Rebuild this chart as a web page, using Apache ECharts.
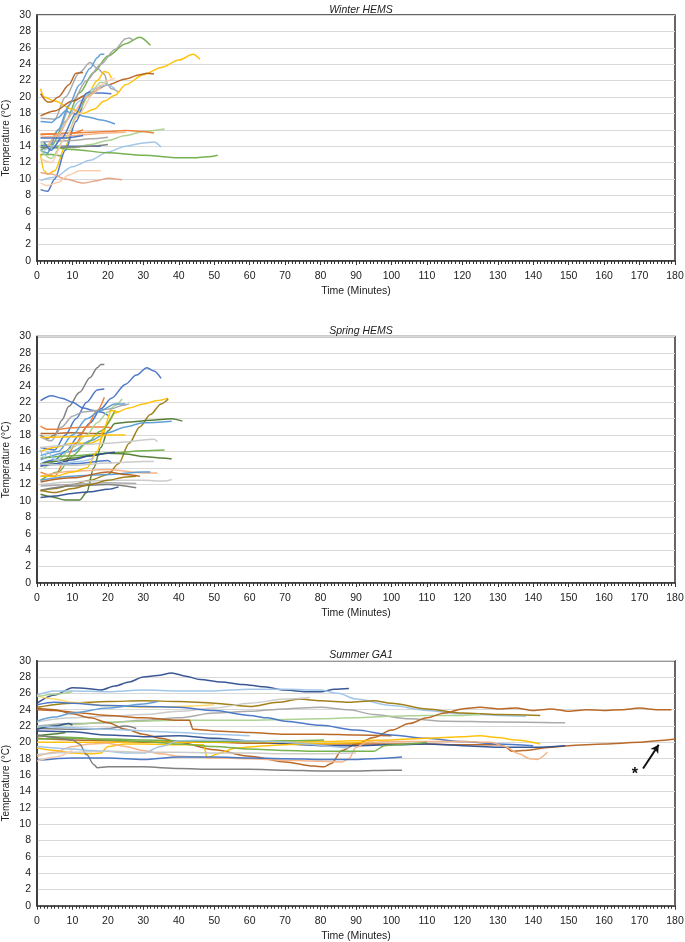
<!DOCTYPE html>
<html><head><meta charset="utf-8">
<script src="https://cdn.jsdelivr.net/npm/echarts@6/dist/echarts.min.js"></script>
<style>html,body{margin:0;padding:0;background:#fff}#c{width:685px;height:942px}</style>
</head><body><div id="c"></div>
<script>
// ---------- axis ticks ----------
const xTicks = [0,10,20,30,40,50,60,70,80,90,100,110,120,130,140,150,160,170,180];
const yTicks = [0,2,4,6,8,10,12,14,16,18,20,22,24,26,28,30];
const panelTitles = ['Winter HEMS','Spring HEMS','Summer GA1'];

// ---------- Winter HEMS ----------
const wGreenPeak = [[1,13.5],[4,14],[8,17],[12,20.5],[16,23],[20,25],[25,26.5],[29,27.3],[32,26.3]];
const wGrayA = [[1,17.4],[5,17.3],[8,20],[12,23],[15,24.2],[17,23.5],[19,22.8],[20,21.5],[21,21],[23,20.6]];
const wGrayB = [[3,13],[6,16],[10,19.5],[14,22],[18,24],[22,25.8],[25,27.1],[26,27.2],[27,27]];
const wGoldA = [[1,21],[2,20],[5,19.5],[10,18.5],[13,18],[16,18.5],[19,19.5],[22,20.2],[25,21.5],[30,22.7],[35,23.6],[40,24.5],[44,25.2],[46,24.6]];
const wGoldB = [[1,13],[2,11],[3,10.6],[5,11],[8,14],[11,17.5],[14,20],[17,22],[19,23.1],[20,23],[21,22.3]];
const wBrownA = [[1,20.4],[3,19.4],[4,19.4],[6,20],[9,21.5],[11,22.9],[13,23]];
const wBrownB = [[1,17.7],[5,18.3],[10,19.5],[15,20.5],[20,21.5],[25,22.2],[29,22.7],[31,22.9],[33,22.8]];
const wLtBlueA = [[1,13.5],[3,13.2],[6,16],[9,19],[12,21.5],[15,23.5],[17,24.8],[18,25.2],[19,25.2]];
const wLtBlueB = [[1,17],[4,16.9],[6,17.5],[8,18.3],[10,18],[14,17.6],[18,17.2],[22,16.7]];
const wLtBlueC = [[1,9.8],[5,10.2],[10,11.5],[15,12.3],[20,13.3],[25,14],[30,14.4],[33,14.5],[35,13.9]];
const wBlueLow = [[1,8.7],[3,8.5],[5,10],[8,13.5],[11,17],[14,20],[15,20.5],[18,20.5],[21,20.4]];
const wBlueFlat = [[1,14.1],[5,14],[10,14],[15,14],[18,14]];
const wGreenLong = [[1,13.9],[5,13.8],[10,13.6],[20,13.2],[30,12.9],[40,12.6],[45,12.6],[48,12.7],[51,12.9]];
const wLtGreenLong = [[1,14.3],[10,13.8],[15,14.2],[20,14.7],[25,15.3],[30,15.8],[36,16.1]];
const wGreenShort = [[1,13],[4,13],[7,12.8]];
const wOrangeShort = [[1,15.5],[5,15.5],[10,15.6],[13,16]];
const wOrangeLong = [[1,15.4],[10,15.6],[20,15.8],[25,15.9],[30,15.8],[33,15.6]];
const wLtOrange = [[1,15.1],[10,15.3],[20,15.6],[25,15.7]];
const wSalmon = [[1,10.8],[4,10.6],[8,10],[13,9.5],[17,9.8],[20,10.1],[22,10],[24,9.9]];
const wPeach = [[1,9.5],[3,9.2],[6,9.6],[9,10.5],[12,11],[15,11],[18,11]];
const wGrayFlatA = [[1,14.5],[10,14.7],[15,14.9],[20,15.1]];
const wGrayFlatB = [[1,13.8],[10,13.9],[15,14],[20,14.2]];
const wLtGreenSteep = [[1,13.5],[4,12.5],[8,15],[12,18.5],[15,20.5],[18,21.8],[20,21.6]];
const wPeachSteep = [[1,12.5],[4,12],[8,15],[12,18],[16,20.5],[20,22],[22,22.3]];
const wLtBlueD = [[2,13.5],[5,14],[8,17],[12,19.5],[16,21],[20,21.5],[22,21]];
const wOrangeSteep = [[3,14],[6,15.5],[10,18],[14,20],[18,21.5]];
const wBlueSteep = [[2,14.5],[4,13.5],[7,15],[11,18],[14,20.5],[15,20.7]];
const wBlueShort = [[1,15],[8,15],[13,15.3]];

// ---------- Spring HEMS ----------
const sGrayPeak = [[1,18],[3,17.6],[5,18],[7,19.8],[9,21.5],[12,23.2],[15,25],[17,26.2],[18,26.6],[19,26.6]];
const sBlueHigh = [[1,22.2],[4,22.8],[7,22.5],[10,22],[13,21.3],[16,21],[18,20.8],[20,20.4]];
const sBluePeak = [[1,14.5],[5,15],[8,16],[12,18],[15,19.5],[18,21.2],[21,22.5],[25,24.2],[28,25.3],[31,26.2],[33,25.8],[35,24.9]];
const sBlueMid = [[1,16.5],[5,16.2],[8,18],[11,20],[14,22],[17,23.5],[19,23.6]];
const sGold = [[1,16],[5,16.5],[10,17],[15,17],[18,17.5],[20,19.5],[22,20.7],[26,21.3],[30,21.8],[34,22.2],[37,22.5]];
const sOlive = [[1,11.2],[5,11.5],[10,12],[15,12.5],[20,13.2],[23,14.5],[26,17],[29,19],[32,20.5],[35,21.8],[37,22.4]];
const sDkGreen = [[1,10.8],[4,10.5],[8,10.1],[12,10.1],[14,11],[16,14],[18,16.5],[20,18.5],[22,19.4],[26,19.6],[32,19.8],[38,20],[41,19.7]];
const sLtBlueLong = [[1,15],[10,16],[15,17.3],[20,18.3],[25,19],[30,19.5],[38,19.7]];
const sOrangeA = [[1,19.1],[3,18.7],[6,18.7],[10,18.9],[15,19],[19,19],[21,18.9]];
const sOrangeB = [[1,18.2],[5,18.2],[10,18.3],[15,18.2],[19,18.2]];
const sOrangeSteep = [[1,13.5],[5,13],[8,15],[11,17],[14,19],[17,21],[19,22.6]];
const sLtGreenSteep = [[2,14],[6,15],[10,16.5],[14,18],[17,19.5],[20,20.8],[22,21.6],[24,22.4]];
const sGreenSteep = [[1,12.5],[6,13.5],[10,15.5],[14,17],[18,18.5],[22,21]];
const sGrayMid = [[1,17.8],[4,17.3],[7,19],[10,20.3],[13,20.8],[17,21],[21,21.2],[24,21.6],[26,21.8]];
const sLtBlueMid = [[1,15.5],[6,16],[10,18],[14,20],[18,21],[22,21.8],[25,21.8]];
const sLtGray = [[1,16.5],[10,16.8],[20,17],[26,17.2],[30,17.4],[33,17.5],[34,17.2]];
const sYellowFlat = [[1,17.7],[10,17.8],[20,18],[25,18]];
const sGreenFlat = [[1,15.2],[10,15.5],[20,15.8],[30,16.1],[36,16.2]];
const sDkGreenFlat = [[1,14.5],[5,14.8],[10,15.2],[15,15.5],[20,15.8],[25,15.7],[30,15.4],[35,15.2],[38,15.1]];
const sDkBlueA = [[1,14.2],[5,14.5],[10,15],[15,15.5],[20,15.8],[22,15.9]];
const sDkBlueB = [[1,14.3],[10,14.5],[20,14.9],[21,14.6]];
const sLtGrayB = [[1,14.5],[10,14.3],[20,14.6],[30,14.8],[33,14.8]];
const sSalmon = [[1,13],[10,13.6],[20,13.8],[30,13.4],[34,13.4]];
const sLtBlueLow = [[1,12.5],[10,13],[20,13.2],[30,13.5],[32,13.5]];
const sBrown = [[1,12.3],[10,12.8],[20,13.5],[25,13.2],[29,13]];
const sLtGrayC = [[1,12],[10,12.3],[20,12.5],[30,12.5],[36,12.4],[38,12.6]];
const sGrayA = [[1,11.8],[10,12],[20,12.2],[28,12.1]];
const sGrayB = [[1,11.3],[10,11.8],[20,12],[28,11.6]];
const sDkBlueLow = [[1,10.4],[5,10.6],[10,10.9],[15,11.1],[20,11.4],[23,11.7]];
const sOliveLow = [[1,11.3],[5,11],[10,11.5],[15,12],[20,12.5],[25,12.9],[28,13]];
const sYellowSteep = [[1,13],[5,13],[10,13.5],[14,14],[17,16],[19,19],[21,21],[23,20.8]];
const sLtBlueSpike = [[1,16.2],[2,15.2],[3,16],[5,15],[8,14.6],[12,14.8],[16,15.2]];

// ---------- Summer GA1 ----------
const uDkBlueTop = [[0,24.8],[5,25.8],[10,26.7],[14,26.6],[18,26.4],[22,26.9],[26,27.4],[30,28],[34,28.2],[38,28.5],[42,28.1],[46,27.7],[52,27.4],[58,27.1],[64,26.8],[70,26.4],[76,26.2],[80,26.2],[84,26.5],[88,26.6]];
const uLtBlueTop = [[0,25.8],[5,26.3],[10,26.3],[20,26.2],[30,26.4],[40,26.3],[50,26.3],[60,26.5],[70,26.5],[80,26.4],[85,26],[90,25.3],[100,24.5],[110,23.9],[120,23.5],[130,23.3],[138,23.2]];
const uOlive = [[0,24.3],[10,24.8],[20,25],[30,25.1],[40,25],[50,24.8],[60,24.4],[68,24.9],[74,25.3],[80,25.1],[88,24.9],[95,25.1],[100,24.8],[110,24.1],[120,23.6],[130,23.4],[142,23.3]];
const uGoldLt = [[0,25.7],[5,25.3],[10,24.9],[20,24.5],[30,24.3],[40,24.4],[50,24.6]];
const uLtGray = [[0,22.5],[10,23],[20,23.2],[30,23.4],[40,23.8],[50,24.2],[60,24.8],[70,25.3],[77,25.5]];
const uGray = [[0,22],[10,22.3],[20,22.4],[30,22.7],[40,23],[50,23.6],[60,23.8],[70,24.1],[80,24.3],[88,24],[95,23.4],[105,22.9],[115,22.6],[130,22.5],[149,22.4]];
const uLtGreen = [[0,21.8],[10,22.2],[20,22.5],[40,22.7],[60,22.7],[80,22.9],[90,23],[100,23.2],[110,23.3],[120,23.3],[125,23.4]];
const uBrownStep = [[0,24],[5,23.9],[10,23.7],[20,23.3],[30,23],[40,22.7],[43,22.7],[44,21.6],[50,21.4],[60,21.2],[70,21],[80,21],[90,20.9],[100,20.8]];
const uOrangeLong = [[0,24.2],[5,24],[10,23.5],[15,23],[20,22.4],[25,21.6],[30,21],[35,20.5],[40,20],[50,19.1],[60,18.3],[70,17.6],[78,17.1],[81,17],[83,17.4],[86,19],[90,19.8],[95,20.6],[100,21.5],[105,22.3],[110,23],[115,23.6],[120,24.1],[125,24.3],[130,24.1],[135,24.2],[140,23.9],[145,24.1],[150,23.8],[155,24],[160,23.9],[165,24],[170,24.2],[175,24],[179,24]];
const uBrownStar = [[0,20.5],[10,20.3],[20,20.2],[30,20],[40,20.1],[50,20],[60,19.9],[70,19.9],[80,19.8],[90,19.8],[100,19.8],[110,19.8],[120,19.7],[130,19.7],[132,19.5],[134,18.9],[137,19],[145,19.4],[150,19.6],[160,19.8],[170,20],[175,20.2],[180,20.4]];
const uDkBlueMid = [[0,21.4],[10,21.3],[20,20.9],[30,20.7],[40,20.8],[50,20.5],[60,20.2],[70,19.8],[80,19.6],[90,19.6],[100,19.7],[110,19.8],[120,19.6],[130,19.4],[140,19.4],[149,19.6]];
const uBlueDesc = [[0,24.6],[5,24.9],[10,24.8],[20,24.5],[30,24.4],[40,24.3],[50,23.9],[60,23.3],[65,23],[70,22.6],[80,22.1],[90,21.5],[100,20.9],[110,20.5],[120,20.1],[130,19.8],[140,19.6]];
const uYellowLong = [[0,20],[10,20],[20,20],[30,20.1],[40,20],[50,20],[60,20.1],[70,20],[80,20.1],[90,20.2],[100,20.3],[110,20.5],[120,20.7],[125,20.8],[130,20.6],[135,20.3],[142,19.8]];
const uYellowJump = [[0,19.3],[5,19],[10,18.7],[15,18.6],[18,18.7],[20,19.5],[25,19.8],[30,19.8],[40,19.7],[47,19.7],[48,18.1],[51,18.6],[56,19.3],[65,19.6],[75,19.8],[85,19.9],[95,20]];
const uLtOrange = [[0,18.3],[5,18.8],[10,19.5],[15,19.8],[20,19.9],[25,19.5],[30,19],[35,18.6],[40,18.3],[50,18.1],[60,18],[70,17.8],[80,17.7],[86,17.6],[88,18],[90,19.4],[93,20],[100,20.1],[110,20.1],[120,20.1],[128,20],[132,19.5],[136,18.6],[139,18],[141,17.9],[144,18.8]];
const uGreenA = [[0,20.8],[10,20.6],[20,20.3],[30,20.1],[40,19.8],[50,19.5],[60,19.2],[70,19],[80,18.9],[90,18.9],[95,18.9],[98,19.6],[105,19.8],[110,20]];
const uGreenB = [[0,20.4],[10,20.5],[20,20.4],[30,20.3],[40,20.2],[50,20.1],[60,20.1],[70,20.2],[81,20.3]];
const uDkGreenShort = [[0,20.8],[4,21],[8,21.2]];
const uLtGreenShort = [[0,25.6],[5,25.9],[10,26.2]];
const uDkGray = [[0,20.9],[5,20.6],[10,20.3],[12,19.8],[14,18.5],[16,17.3],[17,16.9],[20,17],[30,17],[40,16.8],[50,16.7],[60,16.7],[70,16.6],[80,16.5],[90,16.5],[100,16.6],[103,16.6]];
const uBlue18 = [[0,17.8],[10,18.1],[20,18.1],[30,17.9],[40,18.2],[50,18.2],[60,18.1],[70,18],[80,17.9],[90,17.9],[95,18],[103,18.2]];
const uDkGrayShort = [[0,21.7],[10,21.6],[20,21.7],[25,22],[28,21.7]];
const uDkBlueShort = [[0,21.6],[5,22],[9,22.3],[10,22.1]];
const uLtBlueRise = [[0,22.6],[5,23.1],[10,23.6],[20,24.2],[30,24.7],[34,25]];
const uLtBlueLow = [[0,19.5],[10,19.2],[15,19],[20,18.9],[25,18.7],[30,18.7],[35,19.5],[40,20.2],[50,20.3],[60,20.2],[88,19.3]];
const uLtBlueMid = [[0,22],[10,21.8],[20,21.6],[30,21.4],[40,21.2],[50,21],[60,20.8]];
const uLtGrayLow = [[0,18.5],[10,18.8],[20,18.9],[30,18.8],[40,18.8],[50,18.7],[60,18.7],[70,18.6],[80,18.6],[90,18.7]];
const uPeachShort = [[0,17.7],[5,18.2],[10,19]];
// annotation (arrow and asterisk) in data coordinates
const starArrow = [[171,16.8],[175.4,19.7]];
const starPos = [168.7,16.0];

// ---------- styling ----------
const C = {
  blue:'#4472C4', orange:'#ED7D31', gray:'#A5A5A5', gold:'#FFC000', ltBlue:'#5B9BD5',
  green:'#70AD47', dkBlue:'#2F4F8F', brown:'#B5621E', dkGray:'#7A7A7A', olive:'#9C7A10',
  dkGreen:'#4E7A2E', ltOrange:'#F4B183', ltGray:'#C9C9C9', ltGreen:'#A9D18E',
  paleBlue:'#9DC3E6', peach:'#F8CBAD', salmon:'#E8A283', ltGold:'#FFD966'
};

const winter = [
  [wGreenPeak,C.green],[wGrayA,C.gray],[wGrayB,C.gray],[wGoldA,C.gold],[wGoldB,C.gold],
  [wBrownA,C.brown],[wBrownB,C.brown],[wLtBlueA,C.ltBlue],[wLtBlueB,C.ltBlue],[wLtBlueC,C.paleBlue],
  [wBlueLow,C.blue],[wBlueFlat,C.blue],[wGreenLong,C.green],[wLtGreenLong,C.ltGreen],[wGreenShort,C.green],
  [wOrangeShort,C.orange],[wOrangeLong,C.orange],[wLtOrange,C.ltOrange],[wSalmon,C.salmon],[wPeach,C.peach],
  [wGrayFlatA,C.gray],[wGrayFlatB,C.dkGray],[wLtGreenSteep,C.ltGreen],[wPeachSteep,C.peach],[wLtBlueD,C.paleBlue],
  [wOrangeSteep,C.ltOrange],[wBlueSteep,C.blue],[wBlueShort,C.blue]
];
const spring = [
  [sGrayPeak,C.dkGray],[sBlueHigh,C.blue],[sBluePeak,C.blue],[sBlueMid,C.blue],[sGold,C.gold],
  [sOlive,C.olive],[sDkGreen,C.dkGreen],[sLtBlueLong,C.ltBlue],[sOrangeA,C.orange],[sOrangeB,C.brown],
  [sOrangeSteep,C.orange],[sLtGreenSteep,C.ltGreen],[sGreenSteep,C.green],[sGrayMid,C.gray],[sLtBlueMid,C.ltBlue],
  [sLtGray,C.ltGray],[sYellowFlat,C.gold],[sGreenFlat,C.green],[sDkGreenFlat,C.dkGreen],[sDkBlueA,C.dkBlue],
  [sDkBlueB,C.blue],[sLtGrayB,C.ltGray],[sSalmon,C.ltOrange],[sLtBlueLow,C.ltBlue],[sBrown,C.brown],
  [sLtGrayC,C.ltGray],[sGrayA,C.gray],[sGrayB,C.dkGray],[sDkBlueLow,C.dkBlue],[sOliveLow,C.olive],
  [sYellowSteep,C.gold],[sLtBlueSpike,C.paleBlue]
];
const summer = [
  [uDkBlueTop,C.dkBlue],[uLtBlueTop,C.paleBlue],[uOlive,C.olive],[uGoldLt,C.ltGold],[uLtGray,C.ltGray],
  [uGray,C.gray],[uLtGreen,C.ltGreen],[uBrownStep,C.brown],[uOrangeLong,C.brown],[uBrownStar,C.brown],
  [uDkBlueMid,C.dkBlue],[uBlueDesc,C.blue],[uYellowLong,C.gold],[uYellowJump,C.gold],[uLtOrange,C.ltOrange],
  [uGreenA,C.green],[uGreenB,C.green],[uDkGreenShort,C.dkGreen],[uLtGreenShort,C.ltGreen],[uDkGray,C.dkGray],
  [uBlue18,C.blue],[uDkGrayShort,C.dkGray],[uDkBlueShort,C.dkBlue],[uLtBlueRise,C.ltBlue],[uLtBlueLow,C.paleBlue],
  [uLtBlueMid,C.paleBlue],[uLtGrayLow,C.ltGray],[uPeachShort,C.peach]
];

const FONT = '"Liberation Sans", Arial, sans-serif';
const gridTops = [15, 336.5, 660.7];
const gridHeights = [246, 246.5, 245];
const titleTops = [0, 321, 645];

const grids = gridTops.map((t,i)=>({left:37, width:638, top:t, height:gridHeights[i], show:true,
  borderColor:'#333', borderWidth:1.5, containLabel:false, outerBoundsMode:'none'}));
const xAxes = gridTops.map((t,i)=>({
  type:'value', gridIndex:i, min:xTicks[0], max:xTicks[xTicks.length-1], interval:10,
  name:'Time (Minutes)', nameLocation:'middle', nameGap:25, nameMoveOverlap:false,
  nameTextStyle:{fontFamily:FONT, fontSize:10.5, color:'#222'},
  axisLine:{show:true, lineStyle:{color:'#333', width:1.5}},
  axisTick:{show:true, length:4, lineStyle:{color:'#333'}},
  minorTick:{show:true, splitNumber:10, length:3, lineStyle:{color:'#333'}},
  axisLabel:{fontFamily:FONT, fontSize:10.5, color:'#222', margin:10},
  splitLine:{show:false}
}));
const yAxes = gridTops.map((t,i)=>({
  type:'value', gridIndex:i, min:yTicks[0], max:yTicks[yTicks.length-1], interval:2,
  name:'Temperature (°C)', nameLocation:'middle', nameGap:26, nameRotate:90, nameMoveOverlap:false,
  nameTextStyle:{fontFamily:FONT, fontSize:10, color:'#222'},
  axisLine:{show:true, lineStyle:{color:'#333', width:1.5}},
  axisTick:{show:false},
  axisLabel:{fontFamily:FONT, fontSize:10.5, color:'#222', margin:6},
  splitLine:{show:true, lineStyle:{color:'#d9d9d9', width:1.2}}
}));

const series = [];
[winter, spring, summer].forEach((panel, gi)=>{
  panel.forEach(([data,color])=>{
    series.push({
      type:'line', xAxisIndex:gi, yAxisIndex:gi, data:data, showSymbol:false,
      smooth:0.3, smoothMonotone:'x', silent:true,
      lineStyle:{color:color, width:1.5, opacity:0.95}
    });
  });
});
// annotation: arrow + asterisk on Summer panel
series.push({
  type:'line', xAxisIndex:2, yAxisIndex:2, data:[], silent:true,
  markLine:{silent:true, symbol:['none','arrow'], symbolSize:[7,8], label:{show:false},
    lineStyle:{color:'#111', width:2, type:'solid'},
    data:[[{coord:starArrow[0]},{coord:starArrow[1]}]]},
  markPoint:{silent:true, symbol:'circle', symbolSize:0,
    label:{show:true, formatter:'*', color:'#111', fontSize:16, fontWeight:'bold', fontFamily:FONT},
    data:[{coord:starPos}]}
});

const option = {
  animation:false,
  backgroundColor:'#fff',
  title: panelTitles.map((t,i)=>({text:t, left:356, top:titleTops[i], textAlign:'center',
    textStyle:{fontFamily:FONT, fontSize:10.5, fontStyle:'italic', fontWeight:'normal', color:'#222'}})),
  grid: grids, xAxis: xAxes, yAxis: yAxes, series: series
};
const chart = echarts.init(document.getElementById('c'), null, {renderer:'canvas'});
chart.setOption(option);
</script></body></html>
